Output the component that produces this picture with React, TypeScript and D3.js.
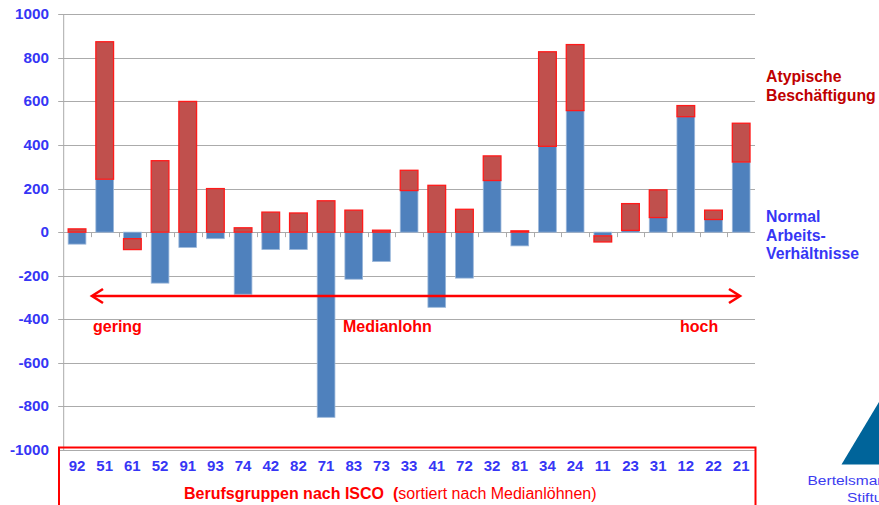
import React, { useRef, useEffect } from "react";
import * as d3 from "d3";

// ISCO occupational groups, sorted by median wage (low -> high)
const categories = [
  "92", "51", "61", "52", "91", "93", "74", "42", "82", "71", "83", "73", "33",
  "41", "72", "32", "81", "34", "24", "11", "23", "31", "12", "22", "21",
];

// change in standard employment relationships
const normalValues = [
  -55, 243, -30, -234, -70, -30, -285, -80, -80, -850, -216, -135, 191,
  -345, -211, 237, -63, 394, 558, -17, 8, 67, 530, 58, 322,
];

// change in atypical employment
const atypValues = [
  15, 631, -50, 328, 600, 200, 20, 92, 88, 144, 101, 9, 93,
  215, 105, 113, 6, 434, 303, -28, 123, 127, 51, 43, 178,
];

const yTicks = [1000, 800, 600, 400, 200, 0, -200, -400, -600, -800, -1000];

const App = () => {
  const svgRef = useRef(null);
  const width = 879;
  const height = 505;
  const margin = { top: 14.3, right: 124, bottom: 55, left: 63.2 };

  useEffect(() => {
    const svg = d3.select(svgRef.current);
    svg.selectAll("*").remove();

    const font = "'Liberation Sans', Arial, sans-serif";
    const blueText = "#3636F5";

    const x = d3
      .scaleBand()
      .domain(categories)
      .range([margin.left, width - margin.right])
      .paddingInner(0.36)
      .paddingOuter(0.18);

    const y = d3
      .scaleLinear()
      .domain([-1000, 1000])
      .range([height - margin.bottom, margin.top]);

    // gridlines
    svg
      .append("g")
      .selectAll("line")
      .data(yTicks)
      .join("line")
      .attr("x1", margin.left - 5)
      .attr("x2", width - margin.right)
      .attr("y1", (d) => Math.round(y(d)) + 0.5)
      .attr("y2", (d) => Math.round(y(d)) + 0.5)
      .attr("stroke", "#ababab")
      .attr("stroke-width", 1);

    // y axis line
    svg
      .append("line")
      .attr("x1", margin.left + 0.5)
      .attr("x2", margin.left + 0.5)
      .attr("y1", y(1000))
      .attr("y2", y(-1000))
      .attr("stroke", "#ababab");

    // y labels
    svg
      .append("g")
      .selectAll("text")
      .data(yTicks)
      .join("text")
      .attr("x", 49)
      .attr("y", (d) => y(d) + 5)
      .attr("text-anchor", "end")
      .style("font-family", font)
      .style("font-weight", "bold")
      .style("font-size", "15.3px")
      .style("fill", blueText)
      .text((d) => d);

    // tick marks on zero line at band boundaries
    const step = x.step();
    svg
      .append("g")
      .selectAll("line")
      .data(d3.range(1, categories.length))
      .join("line")
      .attr("x1", (i) => Math.round(margin.left + i * step) + 0.5)
      .attr("x2", (i) => Math.round(margin.left + i * step) + 0.5)
      .attr("y1", y(0))
      .attr("y2", y(0) + 5)
      .attr("stroke", "#ababab");

    const rows = categories.map((c, i) => {
      const n = normalValues[i];
      const a = atypValues[i];
      // atypical bar stacks on normal bar when both have the same sign
      const base = Math.sign(n) === Math.sign(a) ? n : 0;
      return { c, n, a, base };
    });

    // normal bars
    svg
      .append("g")
      .selectAll("rect")
      .data(rows)
      .join("rect")
      .attr("x", (d) => x(d.c))
      .attr("width", x.bandwidth())
      .attr("y", (d) => y(Math.max(0, d.n)))
      .attr("height", (d) => Math.abs(y(d.n) - y(0)))
      .attr("fill", "#4F81BD")
      .attr("stroke", "#9BB7DA")
      .attr("stroke-width", 0.8);

    // atypical bars
    svg
      .append("g")
      .selectAll("rect")
      .data(rows)
      .join("rect")
      .attr("x", (d) => x(d.c))
      .attr("width", x.bandwidth())
      .attr("y", (d) => y(Math.max(d.base, d.base + d.a)))
      .attr("height", (d) => Math.abs(y(d.base + d.a) - y(d.base)))
      .attr("fill", "#C0504D")
      .attr("stroke", "#FF1A1A")
      .attr("stroke-width", 1.3);

    // double arrow for median wage
    const arrowY = 296;
    const arrowL = 92;
    const arrowR = 740;
    svg
      .append("line")
      .attr("x1", arrowL + 1)
      .attr("x2", arrowR - 1)
      .attr("y1", arrowY)
      .attr("y2", arrowY)
      .attr("stroke", "#FF0000")
      .attr("stroke-width", 2.6);
    svg
      .append("path")
      .attr("d", `M${arrowL + 11},${arrowY - 7} L${arrowL},${arrowY} L${arrowL + 11},${arrowY + 7}`)
      .attr("fill", "none")
      .attr("stroke", "#FF0000")
      .attr("stroke-width", 2.6);
    svg
      .append("path")
      .attr("d", `M${arrowR - 11},${arrowY - 7} L${arrowR},${arrowY} L${arrowR - 11},${arrowY + 7}`)
      .attr("fill", "none")
      .attr("stroke", "#FF0000")
      .attr("stroke-width", 2.6);

    const redLabel = (txt, xx, yy) =>
      svg
        .append("text")
        .attr("x", xx)
        .attr("y", yy)
        .style("font-family", font)
        .style("font-weight", "bold")
        .style("font-size", "16px")
        .style("fill", "#FF0000")
        .text(txt);
    redLabel("gering", 93, 332);
    redLabel("Medianlohn", 343, 332);
    redLabel("hoch", 680, 332);

    // red box around x axis
    svg
      .append("rect")
      .attr("x", 59)
      .attr("y", 447.5)
      .attr("width", 696.5)
      .attr("height", 70)
      .attr("fill", "none")
      .attr("stroke", "#FF0000")
      .attr("stroke-width", 2);

    // category labels
    svg
      .append("g")
      .selectAll("text")
      .data(categories)
      .join("text")
      .attr("x", (d) => x(d) + x.bandwidth() / 2)
      .attr("y", 471)
      .attr("text-anchor", "middle")
      .style("font-family", font)
      .style("font-weight", "bold")
      .style("font-size", "15px")
      .style("fill", blueText)
      .text((d) => d);

    const title = svg
      .append("text")
      .attr("x", 184)
      .attr("y", 499)
      .attr("xml:space", "preserve")
      .style("white-space", "pre")
      .style("font-family", font)
      .style("font-size", "16px")
      .style("fill", "#FF0000");
    title
      .append("tspan")
      .style("font-weight", "bold")
      .text("Berufsgruppen nach ISCO  (");
    title.append("tspan").text("sortiert nach Medianlöhnen)");

    // legend labels
    const legend = (lines, yy, color) =>
      lines.forEach((l, i) =>
        svg
          .append("text")
          .attr("x", 766)
          .attr("y", yy + i * 18.7)
          .style("font-family", font)
          .style("font-weight", "bold")
          .style("font-size", "15.8px")
          .style("fill", color)
          .text(l)
      );
    legend(["Atypische", "Beschäftigung"], 82, "#C00000");
    legend(["Normal", "Arbeits-", "Verhältnisse"], 222, blueText);

    // logo
    svg
      .append("path")
      .attr("d", "M841.5,464.5 L879,464.5 L879,402 Z")
      .attr("fill", "#00649A");
    const logoText = (txt, xx, yy) =>
      svg
        .append("text")
        .attr("transform", `translate(${xx},${yy}) scale(1.15,1)`)
        .style("font-family", font)
        .style("font-size", "13.5px")
        .style("fill", "#3C3CF0")
        .text(txt);
    logoText("Bertelsmann", 807.5, 485);
    logoText("Stiftung", 847, 502);
  }, []);

  return (
    <svg
      ref={svgRef}
      width={width}
      height={height}
      style={{ position: "absolute", left: 0, top: 0, background: "#fff" }}
    ></svg>
  );
};

export default App;
